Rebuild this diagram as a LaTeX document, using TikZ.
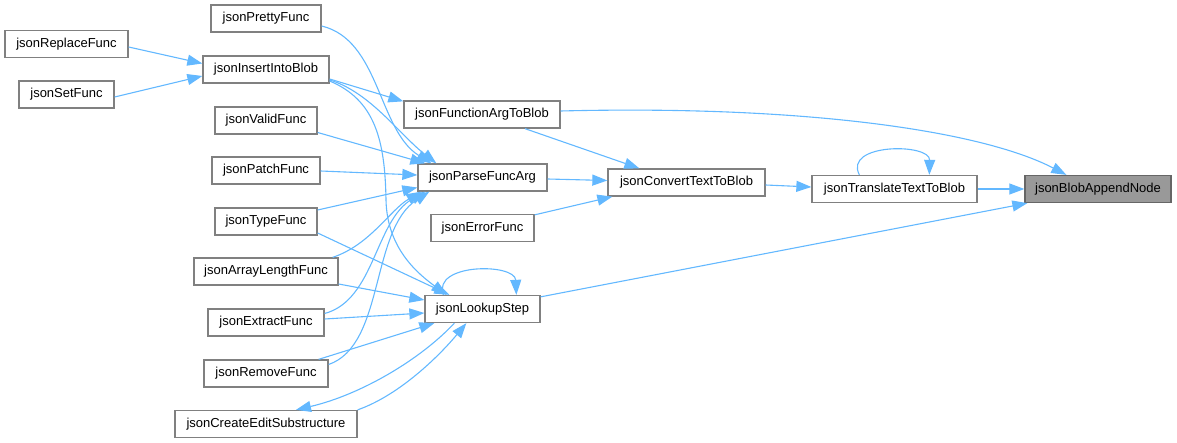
\documentclass[tikz,border=0pt]{standalone}
\usepackage{fontspec}
\setmainfont{Liberation Sans}
\usetikzlibrary{arrows.meta,calc}
\definecolor{edgeblue}{HTML}{63B8FF}
\definecolor{nodeborder}{HTML}{808080}
\definecolor{hlfill}{HTML}{999999}
\definecolor{hlborder}{HTML}{666666}
\tikzset{
  fn/.style={draw=nodeborder, line width=1.3pt, fill=white, inner sep=0pt,
    minimum height=27pt, font=\fontsize{13}{15}\selectfont, text=black},
  hl/.style={fn, draw=hlborder, fill=hlfill},
  call/.style={draw=edgeblue, line width=1.1pt,
    -{Triangle[length=15pt,width=11pt,fill=edgeblue]}},
}
\begin{document}
\begin{tikzpicture}[x=1pt,y=-1pt]
\useasboundingbox (0,0) rectangle (1177,443);
% nodes
\node[fn, minimum width=110pt] (pretty)  at (266,18.5)  {jsonPrettyFunc};
\node[fn, minimum width=123pt] (replace) at (66.5,44)   {jsonReplaceFunc};
\node[fn, minimum width=126pt] (insert)  at (266,69.5)  {jsonInsertIntoBlob};
\node[fn, minimum width=95pt]  (set)     at (66.5,94.5) {jsonSetFunc};
\node[fn, minimum width=102pt] (valid)   at (266,120.5) {jsonValidFunc};
\node[fn, minimum width=108pt] (patch)   at (266,170.5) {jsonPatchFunc};
\node[fn, minimum width=102pt] (type)    at (266,221.5) {jsonTypeFunc};
\node[fn, minimum width=144pt] (array)   at (266,271.5) {jsonArrayLengthFunc};
\node[fn, minimum width=116pt] (extract) at (266,322.5) {jsonExtractFunc};
\node[fn, minimum width=124pt] (remove)  at (266,373.5) {jsonRemoveFunc};
\node[fn, minimum width=182pt] (create)  at (266,424)   {jsonCreateEditSubstructure};
\node[fn, minimum width=156pt] (funcarg) at (482,114.5) {jsonFunctionArgToBlob};
\node[fn, minimum width=129pt] (parse)   at (482.5,177.5) {jsonParseFuncArg};
\node[fn, minimum width=103pt] (error)   at (482.5,228)   {jsonErrorFunc};
\node[fn, minimum width=115pt] (lookup)  at (482.5,309)   {jsonLookupStep};
\node[fn, minimum width=157pt] (convert) at (686.5,182.5) {jsonConvertTextToBlob};
\node[fn, minimum width=165pt] (translate) at (894.5,189) {jsonTranslateTextToBlob};
\node[hl, minimum width=146pt] (append)  at (1098,189)  {jsonBlobAppendNode};
% edges
\draw[call] ($(replace.east)+(0,3)$) -- ($(insert.west)+(0,-6)$);
\draw[call] ($(set.east)+(0,2.5)$) -- ($(insert.west)+(0,6.5)$);
\draw[call] ($(insert.east)+(0,9.5)$) -- ($(funcarg.north west)+(0,1)$);
\draw[call] ($(insert.east)+(0,10.5)$) .. controls (370,92) and (400,135) .. ($(parse.north west)+(19,0)$);
\draw[call] ($(insert.east)+(0,11.5)$) .. controls (375,100) and (385,140) .. (386,200)
   .. controls (387,250) and (420,275) .. ($(lookup.north west)+(22,0)$);
\draw[call] ($(pretty.east)+(0,7.5)$) .. controls (380,40) and (378,130) .. ($(parse.north west)+(14,0)$);
\draw[call] ($(valid.east)+(0,12)$) -- ($(parse.north west)+(8,0)$);
\draw[call] ($(patch.east)+(0,0.5)$) -- ($(parse.west)+(0,-2.5)$);
\draw[call] ($(type.east)+(0,-11.5)$) -- ($(parse.west)+(0,10)$);
\draw[call] ($(type.east)+(0,11.5)$) -- ($(lookup.north west)+(25,0)$);
\draw[call] ($(array.north east)+(-6,0)$) .. controls (370,245) and (390,210) .. ($(parse.south west)+(4,0)$);
\draw[call] ($(array.east)+(0,12.5)$) -- ($(lookup.west)+(0,-9)$);
\draw[call] ($(extract.east)+(0,-9)$) .. controls (375,300) and (375,220) .. ($(parse.south west)+(8,0)$);
\draw[call] ($(extract.east)+(0,-3.5)$) -- ($(lookup.west)+(0,4)$);
\draw[call] ($(remove.east)+(0,-9)$) .. controls (385,345) and (370,230) .. ($(parse.south west)+(12,0)$);
\draw[call] ($(remove.north east)+(-10,0)$) -- ($(lookup.south west)+(10,0)$);
\draw[call] ($(lookup.south west)+(30,0)$) .. controls (420,360) and (360,395) .. ($(create.north)+(30,0)$);
\draw[call] (create.north east) .. controls (400,395) and (440,355) .. ($(lookup.south west)+(42,0)$);
\draw[call] ($(lookup.north west)+(19,0)$) .. controls (432,263) and (515,263) .. ($(lookup.north west)+(92,0)$);
\draw[call] ($(lookup.north east)+(0,2)$) -- ($(append.south west)+(3,0)$);
\draw[call] ($(funcarg.south)+(43,0)$) -- ($(convert.north west)+(32,0)$);
\draw[call] ($(funcarg.east)+(0,-3.5)$) .. controls (800,105) and (980,130) .. ($(append.north west)+(42,0)$);
\draw[call] ($(parse.east)+(0,1.5)$) -- ($(convert.west)+(0,-2)$);
\draw[call] ($(error.north east)+(0,1)$) -- ($(convert.south west)+(5,0)$);
\draw[call] ($(convert.east)+(0,2.5)$) -- ($(translate.west)+(0,-2)$);
\draw[call] ($(translate.north west)+(48,0)$) .. controls (843,143) and (930,143) .. ($(translate.north west)+(118,0)$);
\draw[call] (translate.east) -- (append.west);
\end{tikzpicture}
\end{document}
